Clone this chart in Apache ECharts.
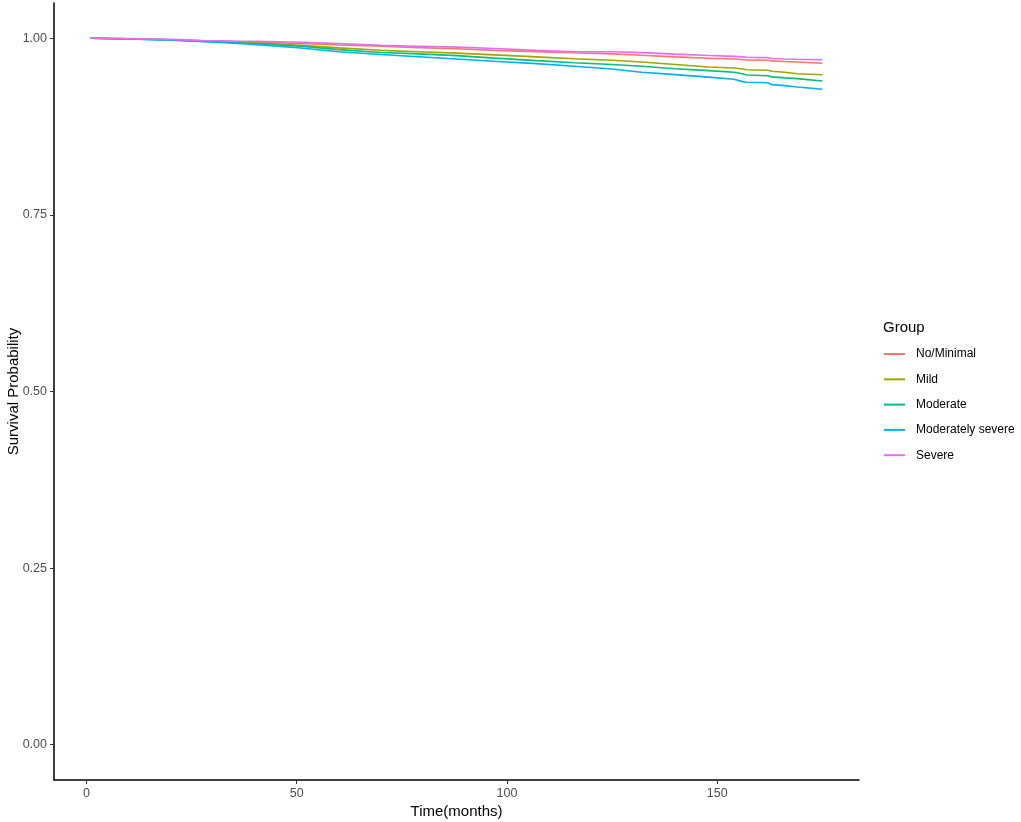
<!DOCTYPE html>
<html>
<head>
<meta charset="utf-8">
<script src="https://cdn.jsdelivr.net/npm/echarts@6/dist/echarts.min.js"></script>
<style>
  html, body { margin: 0; padding: 0; background: #fff; }
  #chart { width: 1021px; height: 822px; }
</style>
</head>
<body>
<div id="chart"></div>
<script>
// time points (months)
const times = [1, 10, 20, 27, 35, 43, 51, 60, 70, 79, 88, 97, 107, 116, 125, 132, 140, 148, 154, 156, 157, 162, 163, 166, 169, 175]

const groups = ['No/Minimal', 'Mild', 'Moderate', 'Moderately severe', 'Severe']
const colors = ['#F8766D', '#A3A500', '#00BF7D', '#00B0F6', '#E76BF3']

const noMinimal = [1.0, 0.9993, 0.998, 0.9968, 0.9955, 0.994, 0.9926, 0.9905, 0.9887, 0.9868, 0.9852, 0.983, 0.9812, 0.9795, 0.978, 0.976, 0.9737, 0.9718, 0.9708, 0.970, 0.9695, 0.969, 0.968, 0.9672, 0.9664, 0.9648]
const mild = [1.0, 0.9993, 0.998, 0.9965, 0.995, 0.9928, 0.990, 0.9865, 0.983, 0.981, 0.979, 0.9765, 0.9737, 0.971, 0.969, 0.9665, 0.963, 0.9595, 0.958, 0.9565, 0.9555, 0.9548, 0.9533, 0.952, 0.9498, 0.9485]
const moderate = [1.0, 0.9992, 0.9978, 0.996, 0.994, 0.9915, 0.9887, 0.984, 0.980, 0.978, 0.9755, 0.972, 0.9684, 0.9655, 0.963, 0.9604, 0.957, 0.9543, 0.952, 0.9498, 0.948, 0.947, 0.9454, 0.944, 0.943, 0.9395]
const modSevere = [1.0, 0.999, 0.9975, 0.9955, 0.993, 0.990, 0.9863, 0.981, 0.977, 0.974, 0.9708, 0.9675, 0.9642, 0.9605, 0.9565, 0.952, 0.9486, 0.945, 0.942, 0.9387, 0.9378, 0.937, 0.9344, 0.933, 0.931, 0.928]
const severe = [1.0, 0.9995, 0.9985, 0.997, 0.996, 0.9955, 0.9944, 0.9925, 0.990, 0.9888, 0.9875, 0.9855, 0.983, 0.981, 0.981, 0.9798, 0.9776, 0.9757, 0.9745, 0.9737, 0.9733, 0.9726, 0.9715, 0.9708, 0.9703, 0.9696]

const xTicks = [0, 50, 100, 150]
const yTicks = [0, 0.25, 0.5, 0.75, 1]

const seriesValues = [noMinimal, mild, moderate, modSevere, severe]

const chart = echarts.init(document.getElementById('chart'))
const font = 'Liberation Sans, Arial, sans-serif'

const option = {
  animation: false,
  backgroundColor: '#fff',
  textStyle: { fontFamily: font },
  title: {
    text: 'Group',
    left: 878,
    top: 315,
    textStyle: { fontSize: 15, fontWeight: 'normal', color: '#000', fontFamily: font }
  },
  legend: {
    orient: 'vertical',
    left: 879,
    top: 342,
    itemWidth: 21,
    itemHeight: 2,
    itemGap: 11.3,
    icon: 'rect',
    textStyle: { fontSize: 12, color: '#000', fontFamily: font, lineHeight: 14, padding: [0, 0, 0, 6] },
    data: groups
  },
  grid: { left: 54, top: 3, width: 805, height: 777, containLabel: false, outerBoundsMode: 'none' },
  xAxis: {
    type: 'value',
    min: -7.7,
    max: 183.7,
    name: 'Time(months)',
    nameLocation: 'middle',
    nameGap: 24,
    nameMoveOverlap: false,
    nameTextStyle: { fontSize: 15, color: '#000', fontFamily: font },
    axisLine: { show: true, onZero: false, lineStyle: { color: '#000', width: 1.5 } },
    axisTick: { show: true, length: 4, lineStyle: { color: '#333', width: 1 }, customValues: xTicks },
    axisLabel: { color: '#4d4d4d', fontSize: 12.5, margin: 7, customValues: xTicks },
    splitLine: { show: false }
  },
  yAxis: {
    type: 'value',
    min: -0.05,
    max: 1.05,
    name: 'Survival Probability',
    nameLocation: 'middle',
    nameGap: 33,
    nameMoveOverlap: false,
    nameTextStyle: { fontSize: 15, color: '#000', fontFamily: font },
    axisLine: { show: true, onZero: false, lineStyle: { color: '#000', width: 1.5 } },
    axisTick: { show: true, length: 4, lineStyle: { color: '#333', width: 1 }, customValues: yTicks },
    axisLabel: { color: '#4d4d4d', fontSize: 12.5, margin: 7, customValues: yTicks, formatter: v => v.toFixed(2) },
    splitLine: { show: false }
  },
  series: groups.map((g, i) => ({
    name: g,
    type: 'line',
    showSymbol: false,
    symbol: 'none',
    color: colors[i],
    lineStyle: { width: 1.6, color: colors[i] },
    data: times.map((t, j) => [t, seriesValues[i][j]])
  }))
}

option && chart.setOption(option)
</script>
</body>
</html>
